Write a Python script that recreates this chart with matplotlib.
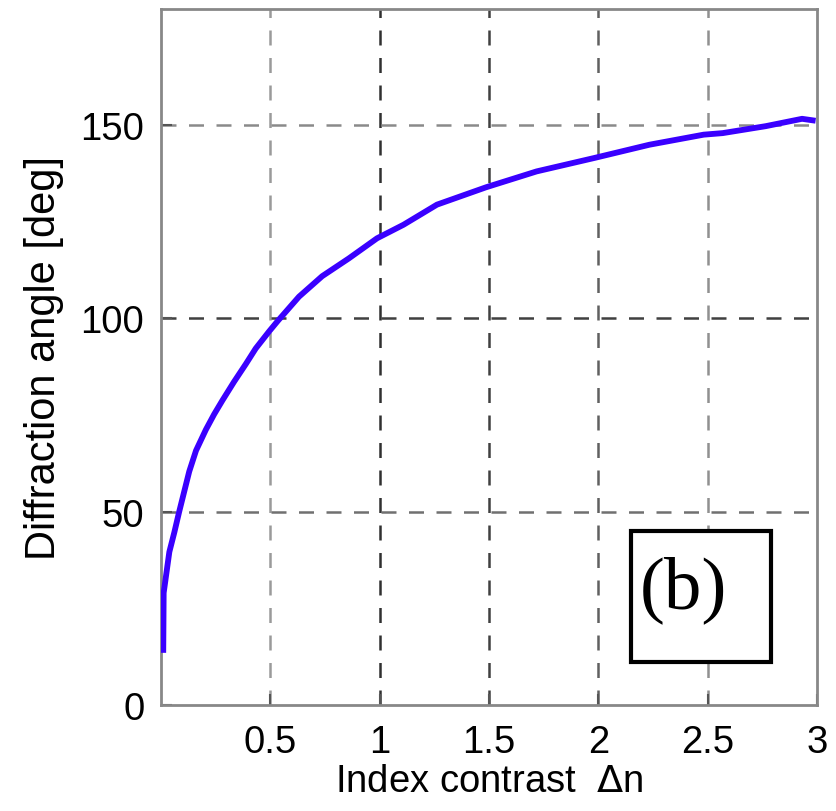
import matplotlib
matplotlib.use('Agg')
from matplotlib import pyplot as plt
from matplotlib.patches import Rectangle

# 读图得到的数据点 (index contrast, diffraction angle)
dn = [0.01, 0.012, 0.038, 0.061, 0.083, 0.129, 0.16, 0.205, 0.243, 0.281, 0.334,
      0.388, 0.433, 0.494, 0.535, 0.631, 0.737, 0.859, 0.988, 1.109, 1.262, 1.487,
      1.718, 1.984, 2.234, 2.482, 2.569, 2.766, 2.932, 2.994]
angle = [13.5, 29.0, 39.6, 44.7, 50.0, 60.4, 65.8, 71.2, 75.2, 78.8, 83.6,
         88.2, 92.2, 96.6, 99.4, 105.6, 110.9, 115.5, 120.7, 124.2, 129.4, 133.9,
         138.0, 141.5, 144.9, 147.5, 147.9, 149.7, 151.6, 151.1]

xticks = [0.5, 1, 1.5, 2, 2.5, 3]
yticks = [0, 50, 100, 150]
xgrid_colors = ['#9a9a9a', '#303030', '#404040', '#606060', '#909090']
ygrid_colors = ['#707070', '#404040', '#8a8a8a']

plt.rcParams['font.family'] = ['Liberation Sans', 'DejaVu Sans']

fig = plt.figure(figsize=(8.37, 8.12), dpi=100)
ax = fig.add_axes([0.1924, 0.1305, 0.976 - 0.1924, 0.9877 - 0.1305])

# 网格线，深浅不一
for xv, c in zip(xticks[:-1], xgrid_colors):
    ax.axvline(xv, color=c, lw=1.8, ls=(0, (6, 5)), zorder=1)
for yv, c in zip(yticks[1:], ygrid_colors):
    ax.axhline(yv, color=c, lw=1.8, ls=(0, (6, 5)), zorder=1)

ax.plot(dn, angle, color='#3a00ff', lw=4.2, zorder=3,
        solid_capstyle='butt', solid_joinstyle='round')

ax.set_xlim(0.0, 3)
ax.set_ylim(0, 180)
ax.set_xticks(xticks)
ax.set_xticklabels(['0.5', '1', '1.5', '2', '2.5', '3'])
ax.set_yticks(yticks)
ax.tick_params(direction='in', length=8, width=1.5, color='#555555',
               labelsize=27.5)
ax.tick_params(axis='x', pad=14)
ax.tick_params(axis='y', pad=12)
for s in ax.spines.values():
    s.set_color('#888888')
    s.set_linewidth(2)

ax.set_xlabel('Index contrast  $\\Delta$n', fontsize=27.5, labelpad=2)
ax.set_ylabel('Diffraction angle [deg]', fontsize=30, labelpad=12)

# (b) 标注框
ax.add_patch(Rectangle((2.148, 11.2), 2.79 - 2.148, 45 - 11.2, fill=True,
                       fc='white', ec='black', lw=3, zorder=5))
ax.text(2.39, 30.0, '(b)', family='Liberation Serif', fontsize=54,
        ha='center', va='center', zorder=6)

fig.savefig('out.png', dpi=100)
